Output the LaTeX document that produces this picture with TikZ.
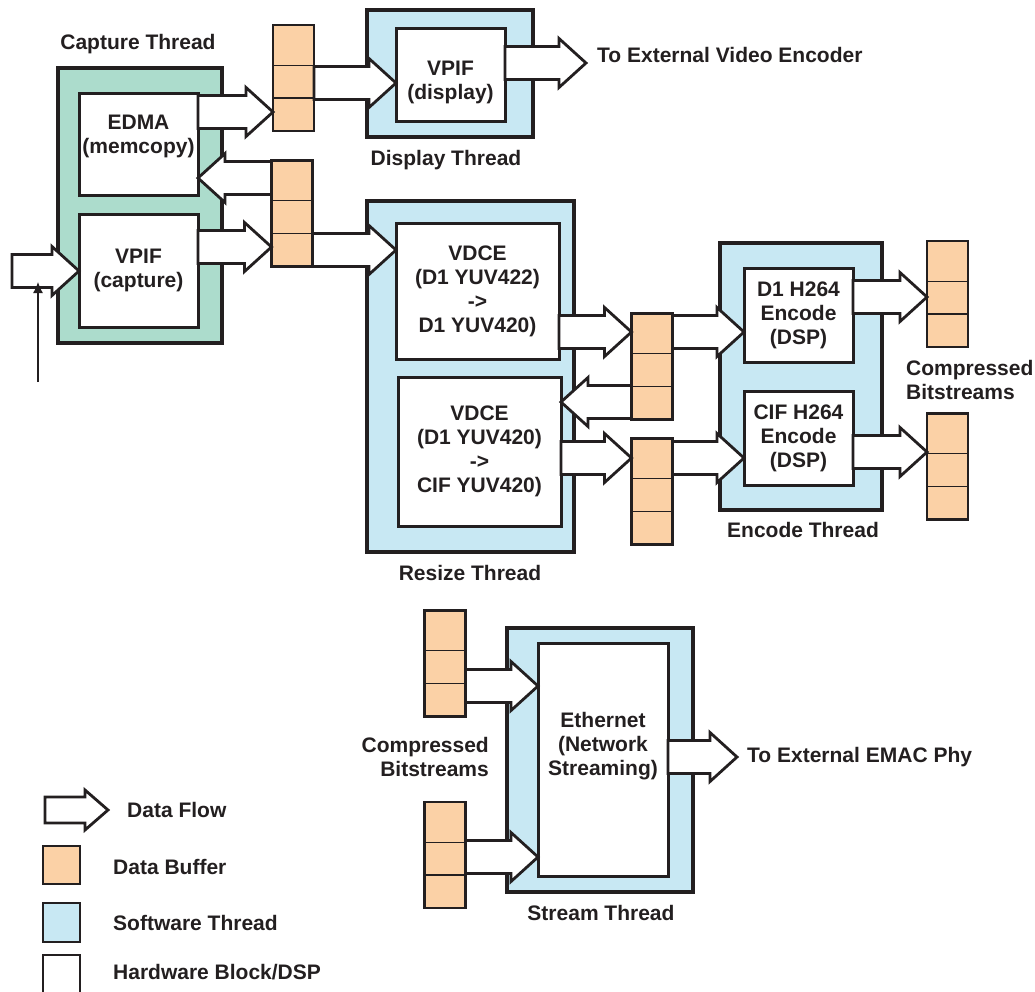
\documentclass[tikz,border=0pt]{standalone}
\usepackage{fontspec}
\setmainfont{Liberation Sans}
\usetikzlibrary{calc,arrows.meta}
\definecolor{bufc}{RGB}{251,209,166}
\definecolor{swc}{RGB}{200,232,243}
\definecolor{capc}{RGB}{172,220,204}
\definecolor{linec}{RGB}{35,31,32}
\tikzset{
  txt/.style={font=\fontsize{21}{24}\selectfont\bfseries, text=linec, align=center, inner sep=0pt},
  thread/.style={draw=linec, fill=swc, line width=4pt, outer sep=0pt},
  hw/.style={txt, draw=linec, fill=white, line width=3pt, outer sep=0pt},
  buf/.style={draw=linec, fill=bufc, line width=2.8pt, outer sep=0pt, minimum width=41pt, minimum height=106pt},
  bufline/.style={draw=linec, line width=1.4pt},
  flow/.style={draw=linec, fill=white, line width=2.8pt, line join=miter},
}
% sizes of the fat data-flow arrows
\newcommand{\fbody}{16.5}
\newcommand{\fhalf}{24.5}
\newcommand{\fhead}{27pt}
% fat arrow from #1 to #2 at height #3
\newcommand{\flow}[3]{%
  \coordinate (fs) at (#1 |- 0,#3);
  \coordinate (ft) at (#2 |- 0,#3);
  \coordinate (fh) at ($(ft)!\fhead!(fs)$);
  \draw[flow] ($(fs)+(0,-\fbody)$) -- ($(fh)+(0,-\fbody)$) -- ($(fh)+(0,-\fhalf)$)
    -- (ft) -- ($(fh)+(0,\fhalf)$) -- ($(fh)+(0,\fbody)$) -- ($(fs)+(0,\fbody)$) -- cycle;
}
% three-slot buffer
\newcommand{\buffer}[2]{%
  \node[buf] (#1) at (#2) {};
  \draw[bufline] ($(#1.north west)!0.38!(#1.south west)$) -- ($(#1.north east)!0.38!(#1.south east)$);
  \draw[bufline] ($(#1.north west)!0.69!(#1.south west)$) -- ($(#1.north east)!0.69!(#1.south east)$);
}

\begin{document}
\begin{tikzpicture}[x=1pt,y=-1pt]
\useasboundingbox (0,0) rectangle (1035,991);

% capture thread
\node[thread, fill=capc, minimum width=164pt, minimum height=275pt] (capt) at (140,205.5) {};
\node[txt] (captlbl) at (138,44) {Capture Thread};
\node[hw, minimum width=119pt, minimum height=102pt] (edma) at (138.5,144) {};
\node[txt] (edmatxt) at (138.5,136) {EDMA\\(memcopy)};
\node[hw, minimum width=119pt, minimum height=113pt] (vcap) at (138.5,270.5) {VPIF\\(capture)};

% display thread
\node[thread, minimum width=166pt, minimum height=127pt] (disp) at (450,73.5) {};
\node[txt] (displbl) at (446,160) {Display Thread};
\node[hw, minimum width=109pt, minimum height=93pt] (vdisp) at (450.5,74.5) {};
\node[txt] (vdisptxt) at (450.5,82.5) {VPIF\\(display)};
\node[txt, anchor=west] (vidlbl) at (597,55) {To External Video Encoder};

% resize thread
\node[thread, minimum width=207pt, minimum height=351pt] (rsz) at (470.5,376.5) {};
\node[txt] (rszlbl) at (470,573) {Resize Thread};
\node[hw, minimum width=163pt, minimum height=136pt] (vdce1) at (477.5,291) {VDCE\\(D1 YUV422)\\->\\D1 YUV420)};
\node[hw, minimum width=163pt, minimum height=149pt] (vdce2) at (479.5,451.5) {VDCE\\(D1 YUV420)\\->\\CIF YUV420)};

% encode thread
\node[thread, minimum width=162pt, minimum height=267pt] (enc) at (801,376.5) {};
\node[txt] (enclbl) at (803,530) {Encode Thread};
\node[hw, minimum width=109pt, minimum height=94pt] (d1enc) at (798.5,315) {D1 H264\\Encode\\(DSP)};
\node[hw, minimum width=109pt, minimum height=94pt] (cifenc) at (798.5,438) {CIF H264\\Encode\\(DSP)};
\node[txt, align=left, anchor=west] (outlbl) at (906,379.5) {Compressed\\Bitstreams};

% stream thread
\node[thread, minimum width=186pt, minimum height=264pt] (strm) at (600,760) {};
\node[txt] (strmlbl) at (601,913) {Stream Thread};
\node[hw, minimum width=130pt, minimum height=233pt] (eth) at (603,759.5) {};
\node[txt] (ethtxt) at (603,746) {Ethernet\\(Network\\Streaming)};
\node[txt, align=right, anchor=east] (inlbl) at (489,757) {Compressed\\Bitstreams};
\node[txt, anchor=west] (phylbl) at (747,757) {To External EMAC Phy};

% buffers
\buffer{buf1}{293.5,78}
\buffer{buf2}{292,213.5}
\buffer{buf3}{652,366.5}
\buffer{buf4}{652,491.5}
\buffer{out1}{947.5,294}
\buffer{out2}{947.5,466.5}
\buffer{in1}{445,663.5}
\buffer{in2}{445,855}

% data flow
\coordinate (camin) at (12,271);
\coordinate (camsrc) at (38,382);
\coordinate (vidout) at (586,63);
\coordinate (phyout) at (737,757);
\flow{camin}{vcap.west}{271}
\draw[line width=1.2pt, draw=linec, -{Latex[length=11pt,width=10pt]}] (camsrc) -- (camsrc |- 0,282);
\flow{edma.east}{buf1.west}{112}
\flow{buf2.west}{edma.east}{178}
\flow{vcap.east}{buf2.west}{247}
\flow{buf1.east}{vdisp.west}{83}
\flow{vdisp.east}{vidout}{63}
\flow{buf2.east}{vdce1.west}{250}
\flow{vdce1.east}{buf3.west}{332}
\flow{buf3.west}{vdce2.east}{402}
\flow{vdce2.east}{buf4.west}{458}
\flow{buf3.east}{d1enc.west}{332}
\flow{buf4.east}{cifenc.west}{458}
\flow{d1enc.east}{out1.west}{297}
\flow{cifenc.east}{out2.west}{452}
\flow{in1.east}{eth.west}{686}
\flow{in2.east}{eth.west}{857}
\flow{eth.east}{phyout}{757}

% legend
\begin{scope}
  \def\fbody{13}\def\fhalf{20}\def\fhead{23pt}
  \coordinate (lgs) at (45,810);
  \coordinate (lgt) at (108,810);
  \flow{lgs}{lgt}{810}
\end{scope}
\node[txt, anchor=west] (lgflow) at (127,810) {Data Flow};
\node[buf, line width=2.5pt, minimum width=37pt, minimum height=38pt] (lgbuf) at (61.5,865) {};
\node[txt, anchor=west] (lgbuftxt) at (113,867) {Data Buffer};
\node[thread, line width=2.5pt, minimum width=37pt, minimum height=39pt] (lgsw) at (61.5,922.5) {};
\node[txt, anchor=west] (lgswtxt) at (113,923) {Software Thread};
\node[hw, line width=2.5pt, minimum width=37pt, minimum height=40pt] (lghw) at (61.5,975) {};
\node[txt, anchor=west] (lghwtxt) at (113,972) {Hardware Block/DSP};
\end{tikzpicture}
\end{document}
